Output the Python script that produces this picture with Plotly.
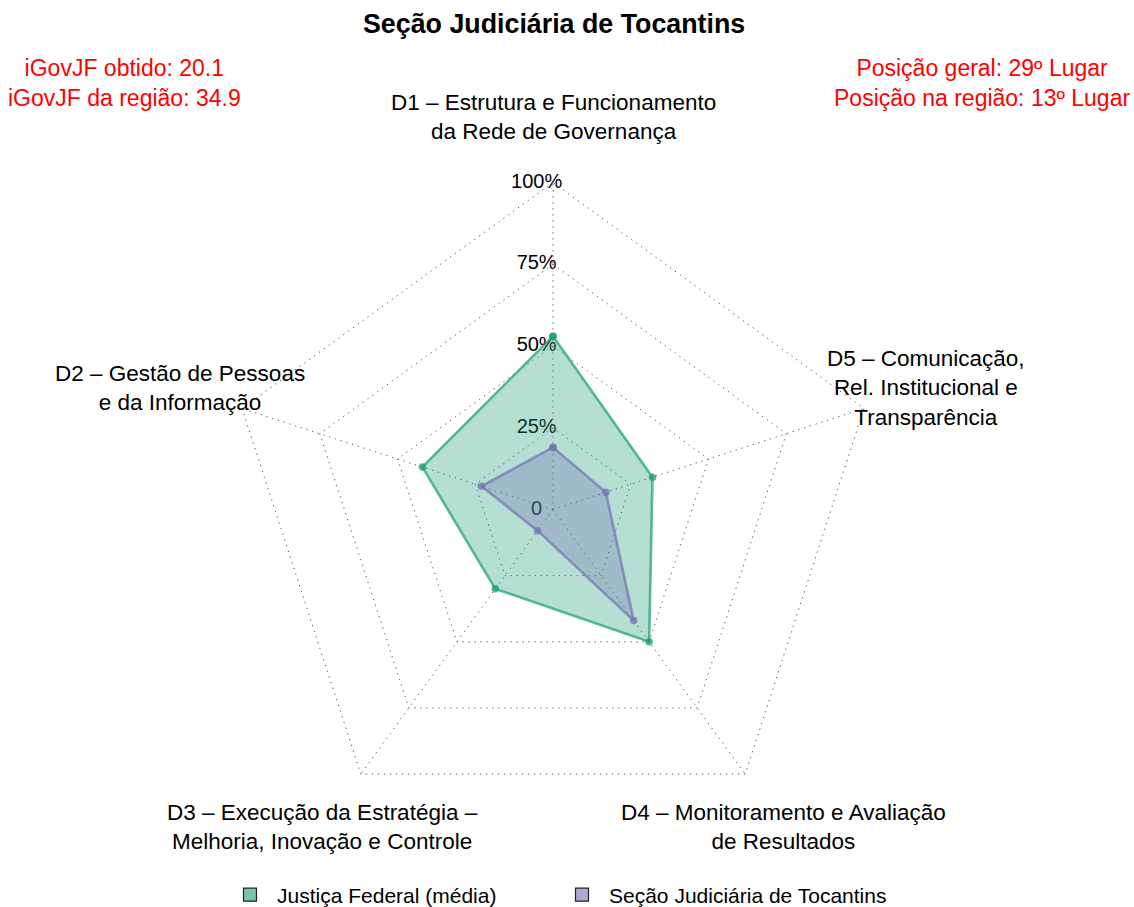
import math
import plotly.graph_objects as go

# ---------------- data ----------------
dims = ["D1", "D2", "D3", "D4", "D5"]
dim_labels = [
    "D1 – Estrutura e Funcionamento<br>da Rede de Governança",
    "D2 – Gestão de Pessoas<br>e da Informação",
    "D3 – Execução da Estratégia –<br>Melhoria, Inovação e Controle",
    "D4 – Monitoramento e Avaliação<br>de Resultados",
    "D5 – Comunicação,<br>Rel. Institucional e<br>Transparência",
]
justica_federal = [53, 42, 30, 50, 32]
secao_tocantins = [19, 23, 8, 42, 17]
series_names = ["Justiça Federal (média)", "Seção Judiciária de Tocantins"]
radial_ticks = [0, 25, 50, 75, 100]
radial_ticklabels = ["0", "25%", "50%", "75%", "100%"]
title_text = "Seção Judiciária de Tocantins"
left_info = ["iGovJF obtido: 20.1", "iGovJF da região: 34.9"]
right_info = ["Posição geral: 29º Lugar", "Posição na região: 13º Lugar"]

# ---------------- layout constants ----------------
W, H = 1134, 907
CX, CY = 553, 509.5        # centre of the radar (px from left / top)
PX_PER_UNIT = 3.27         # px per radial unit (100 units = outer ring)
RMAX = 100.5
FONT = "Liberation Sans, Arial, Helvetica, sans-serif"
GREEN = "27,158,119"
PURPLE = "117,112,179"
GRID = "#5a5a5a"
GRID_DASH = "1.3px,4.7px"

rad_px = RMAX * PX_PER_UNIT
polar_dom_x = [(CX - rad_px) / W, (CX + rad_px) / W]
polar_dom_y = [((H - CY) - rad_px) / H, ((H - CY) + rad_px) / H]
x_range = [-CX / PX_PER_UNIT, (W - CX) / PX_PER_UNIT]
y_range = [-(H - CY) / PX_PER_UNIT, CY / PX_PER_UNIT]

fig = go.Figure()

# radial axis labels (cartesian layer, drawn under the polar fills)
fig.add_trace(go.Scatter(
    x=[-5] * len(radial_ticks), y=radial_ticks, text=radial_ticklabels,
    mode="text", textposition="middle center",
    textfont=dict(family=FONT, size=20, color="black"),
    hoverinfo="skip", showlegend=False, cliponaxis=False,
))

def closed(v):
    return list(v) + [v[0]]

for vals, rgb in [(justica_federal, GREEN), (secao_tocantins, PURPLE)]:
    fig.add_trace(go.Scatterpolar(
        r=closed(vals), theta=closed(dims), mode="lines+markers",
        fill="toself", fillcolor=f"rgba({rgb},0.33)",
        line=dict(color=f"rgba({rgb},0.7)", width=2.6),
        marker=dict(color=f"rgba({rgb},0.75)", size=7.5),
        showlegend=False, hoverinfo="skip",
    ))

# legend swatches
for name, rgb in zip(series_names, [GREEN, PURPLE]):
    fig.add_trace(go.Scatterpolar(
        r=[None], theta=[None], mode="markers", name=name,
        marker=dict(symbol="square", size=13, color=f"rgba({rgb},0.6)",
                    line=dict(color="#222222", width=1.2)),
    ))

annotations = []
# vertex labels at 1.2 x radius, angles starting at 90 deg counterclockwise
for i, lab in enumerate(dim_labels):
    th = math.radians(90 + 360 * i / len(dims))
    annotations.append(dict(
        x=120 * math.cos(th), y=120 * math.sin(th), xref="x", yref="y",
        text=lab, showarrow=False, xanchor="center", yanchor="middle",
        align="center", font=dict(family=FONT, size=22.5, color="black"),
    ))
annotations.append(dict(
    x=554 / W, y=1 - 24 / H, xref="paper", yref="paper", text="<b>" + title_text + "</b>",
    showarrow=False, xanchor="center", yanchor="middle",
    font=dict(family=FONT, size=26.8, color="black"),
))
annotations.append(dict(
    x=124 / W, y=1 - 83 / H, xref="paper", yref="paper", text="<br>".join(left_info),
    showarrow=False, xanchor="center", yanchor="middle", align="center",
    font=dict(family=FONT, size=23, color="red"),
))
annotations.append(dict(
    x=981.5 / W, y=1 - 83 / H, xref="paper", yref="paper", text="<br>".join(right_info),
    showarrow=False, xanchor="center", yanchor="middle", align="center",
    font=dict(family=FONT, size=23, color="red"),
))

fig.update_layout(
    width=W, height=H,
    margin=dict(l=0, r=0, t=0, b=0, autoexpand=False),
    paper_bgcolor="white", plot_bgcolor="rgba(0,0,0,0)",
    font=dict(family=FONT, color="black"),
    xaxis=dict(range=x_range, domain=[0, 1], visible=False, fixedrange=True),
    yaxis=dict(range=y_range, domain=[0, 1], visible=False, fixedrange=True),
    polar=dict(
        domain=dict(x=polar_dom_x, y=polar_dom_y),
        bgcolor="rgba(0,0,0,0)",
        gridshape="linear",
        angularaxis=dict(
            type="category", categoryarray=dims, direction="counterclockwise",
            rotation=90, showticklabels=False, ticks="", showline=False,
            showgrid=True, gridcolor=GRID, gridwidth=1.2, griddash=GRID_DASH,
        ),
        radialaxis=dict(
            range=[0, RMAX], tickvals=radial_ticks[1:], showticklabels=False,
            ticks="", showline=False, showgrid=True, gridcolor=GRID,
            gridwidth=1.2, griddash=GRID_DASH,
        ),
    ),
    showlegend=True,
    legend=dict(
        orientation="h", x=223 / W, xanchor="left", y=1 - 895 / H, yanchor="middle",
        font=dict(family=FONT, size=21, color="black"),
        bgcolor="rgba(0,0,0,0)", itemwidth=44,
        entrywidth=273, entrywidthmode="pixels",
    ),
    annotations=annotations,
)

fig.write_html("out.html", config={"displayModeBar": False},
               post_script="document.body.style.margin='0px';")
